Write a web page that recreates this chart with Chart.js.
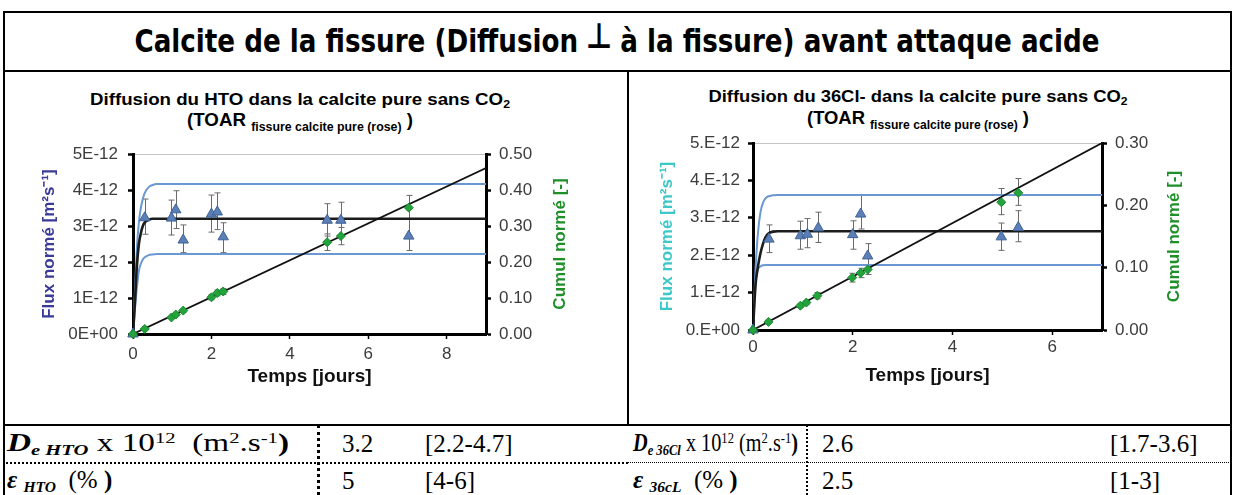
<!DOCTYPE html>
<html><head><meta charset="utf-8">
<script src="https://cdn.jsdelivr.net/npm/chart.js@4.4.0/dist/chart.umd.min.js"></script>
<style>
html,body{margin:0;padding:0;background:#fff;width:1234px;height:495px;overflow:hidden;position:relative;font-family:"Liberation Sans",Arial,sans-serif}
.ln{position:absolute;background:#000}
.vd{position:absolute;width:0;border-left:3px dotted #000}
.vd2{position:absolute;width:0;border-left:2px dotted #000}
.hd{position:absolute;height:0;border-top:2px dotted #000}
.hd2{position:absolute;height:0;border-top:1px dotted #000}
.ct{position:absolute;white-space:nowrap;transform:translate(-50%,-50%);font-weight:bold;color:#000}
.ct sub{font-size:0.66em;vertical-align:-0.35em}
.tx{position:absolute;white-space:nowrap;font-family:"Liberation Serif",serif;font-size:25px;color:#000;transform:translateY(-50%);transform-origin:0 50%}
.tx sub{font-size:0.62em;vertical-align:-0.25em}
.tx sup{font-size:0.62em;vertical-align:0.55em}
canvas{position:absolute}
</style></head>
<body>
<!-- table lines -->
<div class="ln" style="left:3px;top:11px;width:1229px;height:2px"></div>
<div class="ln" style="left:3px;top:11px;width:2px;height:484px"></div>
<div class="ln" style="left:1230px;top:11px;width:2px;height:484px"></div>
<div class="ln" style="left:3px;top:70px;width:1229px;height:2px"></div>
<div class="ln" style="left:627px;top:71px;width:2px;height:354px"></div>
<div class="ln" style="left:3px;top:424px;width:1229px;height:2px"></div>
<div class="vd" style="left:317px;top:425px;height:70px"></div>
<div class="vd2" style="left:806px;top:425px;height:70px"></div>
<div class="hd" style="left:3px;top:462px;width:625px"></div>
<div class="hd2" style="left:628px;top:462px;width:603px"></div>

<div id="mainTitle" class="ct" style="left:617px;top:41px;font-family:'DejaVu Sans Condensed','DejaVu Sans',sans-serif;font-size:32px">Calcite de la fissure (Diffusion <span style="display:inline-block;transform:translateY(-5px) scale(1.1)">⊥</span> à la fissure) avant attaque acide</div>

<div id="t1a" class="ct" style="left:300px;top:100px;font-size:17px">Diffusion du HTO dans la calcite pure sans CO<sub>2</sub></div>
<div id="t1b" class="ct" style="left:300px;top:122px;font-size:18px">(TOAR <sub>fissure calcite pure (rose)</sub> )</div>
<div id="t2a" class="ct" style="left:918px;top:97px;font-size:17px">Diffusion du 36Cl- dans la calcite pure sans CO<sub>2</sub></div>
<div id="t2b" class="ct" style="left:918px;top:120px;font-size:18px">(TOAR <sub>fissure calcite pure (rose)</sub> )</div>

<canvas id="c1" width="623" height="353" style="left:4px;top:72px"></canvas>
<canvas id="c2" width="600" height="353" style="left:630px;top:72px"></canvas>

<div id="r3a" class="tx" style="left:7px;top:444px"><b><i>D</i></b><sub><b><i>e HTO</i></b></sub> x 10<sup>12</sup> &nbsp;(m<sup>2</sup>.s<sup>-1</sup><b>)</b></div>
<div class="tx" style="left:342px;top:444px">3.2</div>
<div class="tx" style="left:425px;top:444px">[2.2-4.7]</div>
<div class="tx" style="left:7px;top:481px"><b><i>ε</i></b> <sub><b><i>HTO</i></b></sub> &nbsp;(% <b>)</b></div>
<div class="tx" style="left:342px;top:481px">5</div>
<div class="tx" style="left:425px;top:481px">[4-6]</div>

<div id="r3b" class="tx" style="left:633px;top:444px"><b><i>D</i></b><sub><b><i>e 36Cl</i></b></sub> x 10<sup>12</sup> (m<sup>2</sup>.s<sup>-1</sup><b>)</b></div>
<div class="tx" style="left:822px;top:444px">2.6</div>
<div class="tx" style="left:1110px;top:444px">[1.7-3.6]</div>
<div class="tx" style="left:633px;top:481px"><b><i>ε</i></b> <sub><b><i>36cL</i></b></sub> &nbsp;(% <b>)</b></div>
<div class="tx" style="left:822px;top:481px">2.5</div>
<div class="tx" style="left:1110px;top:481px">[1-3]</div>

<script>
// ================= DATA =================
// HTO chart (flux in units of 1E-12 m2/s, cumul dimensionless)
const htoTime      = [0, 0.30, 0.98, 1.09, 1.28, 2.00, 2.15, 2.30, 4.95, 5.30, 7.03];
const htoFlux      = [0, 3.23, 3.22, 3.45, 2.61, 3.33, 3.39, 2.70, 3.16, 3.16, 2.72];
const htoFluxLo    = [0, 2.77, 2.75, 2.93, 2.26, 2.83, 2.90, 2.26, 2.72, 2.75, 2.32];
const htoFluxHi    = [0, 3.75, 3.72, 3.98, 3.03, 3.86, 3.92, 3.09, 3.62, 3.66, 3.19];
const htoCumul     = [0, 0.014, 0.046, 0.054, 0.065, 0.102, 0.114, 0.118, 0.255, 0.272, 0.351];
const htoCumulLo   = [0, 0.012, 0.043, 0.050, 0.060, 0.095, 0.106, 0.110, 0.232, 0.248, 0.318];
const htoCumulHi   = [0, 0.016, 0.049, 0.058, 0.070, 0.109, 0.122, 0.126, 0.278, 0.296, 0.385];
const htoFitTime   = [0, 0.05, 0.10, 0.15, 0.20, 0.25, 0.30, 0.40, 0.50, 0.60, 9];
const htoFitMid    = [0, 0.9, 1.9, 2.5, 2.8, 3.0, 3.1, 3.17, 3.2, 3.2, 3.2];
const htoFitHigh   = [0, 1.2, 2.4, 3.1, 3.5, 3.75, 3.92, 4.08, 4.14, 4.17, 4.17];
const htoFitLow    = [0, 0.7, 1.3, 1.75, 1.95, 2.07, 2.13, 2.19, 2.21, 2.22, 2.22];
const htoCumFitTime = [0, 9];
const htoCumFit     = [0, 0.461];
const htoXTicks     = [0, 2, 4, 6, 8];
const htoFluxTicks  = [0, 1, 2, 3, 4, 5];
const htoFluxLabels = ['0E+00', '1E-12', '2E-12', '3E-12', '4E-12', '5E-12'];
const htoCumTicks   = [0, 0.1, 0.2, 0.3, 0.4, 0.5];
const htoCumLabels  = ['0.00', '0.10', '0.20', '0.30', '0.40', '0.50'];

// 36Cl chart
const clTime      = [0, 0.32, 0.95, 1.09, 1.31, 2.00, 2.16, 2.30, 4.98, 5.32];
const clFlux      = [0, 2.43, 2.52, 2.56, 2.73, 2.55, 3.10, 1.98, 2.49, 2.74];
const clFluxLo    = [0, 2.07, 2.16, 2.20, 2.34, 2.16, 2.70, 1.66, 2.13, 2.36];
const clFluxHi    = [0, 2.81, 2.91, 2.98, 3.15, 2.92, 3.60, 2.31, 2.86, 3.19];
const clCumTime   = [0, 0.31, 0.95, 1.07, 1.29, 1.99, 2.16, 2.30, 4.98, 5.32];
const clCumul     = [0, 0.013, 0.039, 0.044, 0.055, 0.084, 0.0915, 0.097, 0.205, 0.220];
const clCumulLo   = [0, 0.011, 0.036, 0.041, 0.050, 0.077, 0.084, 0.089, 0.185, 0.200];
const clCumulHi   = [0, 0.015, 0.042, 0.047, 0.060, 0.091, 0.099, 0.105, 0.227, 0.243];
const clFitTime   = [0, 0.05, 0.10, 0.15, 0.20, 0.25, 0.30, 0.40, 0.50, 7];
const clFitMid    = [0, 1.2, 1.7, 2.05, 2.3, 2.48, 2.57, 2.63, 2.64, 2.64];
const clFitHigh   = [0, 1.6, 2.6, 3.15, 3.4, 3.52, 3.57, 3.6, 3.61, 3.61];
const clFitLow    = [0, 1.2, 1.62, 1.7, 1.73, 1.74, 1.74, 1.74, 1.74, 1.74];
const clCumFitTime = [0, 7];
const clCumFit     = [0, 0.30];
const clXTicks     = [0, 2, 4, 6];
const clFluxTicks  = [0, 1, 2, 3, 4, 5];
const clFluxLabels = ['0.E+00', '1.E-12', '2.E-12', '3.E-12', '4.E-12', '5.E-12'];
const clCumTicks   = [0, 0.1, 0.2, 0.3];
const clCumLabels  = ['0.00', '0.10', '0.20', '0.30'];

// ================= HELPERS =================
function fitX(id, w){
  const el = document.getElementById(id);
  const cw = el.getBoundingClientRect().width;
  const k = w / cw;
  el.style.transform = (el.classList.contains('ct') ? 'translate(-50%,-50%) ' : 'translateY(-50%) ') + 'scaleX(' + k + ')';
}
fitX('mainTitle', 965);
fitX('t1a', 420); fitX('t2a', 419);
fitX('t1b', 226); fitX('t2b', 222);
fitX('r3a', 282);
fitX('r3b', 165);

function pts(xs, ys){ return xs.map((x, i) => ({x: x, y: ys[i]})); }

const errorBars = {
  id: 'errorBars',
  beforeDatasetsDraw(chart){
    const ctx = chart.ctx;
    chart.data.datasets.forEach((ds, i) => {
      if (!ds.errLo) return;
      const meta = chart.getDatasetMeta(i);
      const xs = chart.scales[meta.xAxisID], ys = chart.scales[meta.yAxisID];
      ctx.save();
      ctx.strokeStyle = ds.errColor; ctx.lineWidth = 1;
      ds.data.forEach((p, j) => {
        const lo = ds.errLo[j], hi = ds.errHi[j];
        if (lo === hi) return;
        const px = Math.round(xs.getPixelForValue(p.x)) + 0.5;
        const y1 = ys.getPixelForValue(lo), y2 = ys.getPixelForValue(hi);
        ctx.beginPath();
        ctx.moveTo(px, y1); ctx.lineTo(px, y2);
        ctx.moveTo(px - 3, y1); ctx.lineTo(px + 3, y1);
        ctx.moveTo(px - 3, y2); ctx.lineTo(px + 3, y2);
        ctx.stroke();
      });
      ctx.restore();
    });
  }
};

// right-axis title drawn reading bottom-to-top (like the reference)
const rightTitle = {
  id: 'rightTitle',
  afterDraw(chart, args, opts){
    const s = chart.scales.y2, ca = chart.chartArea, ctx = chart.ctx;
    const size = opts.size, lh = size * 1.2;
    ctx.save();
    ctx.font = 'bold ' + size + 'px "Liberation Sans", Arial, sans-serif';
    ctx.fillStyle = opts.color;
    ctx.textAlign = 'center'; ctx.textBaseline = 'middle';
    ctx.translate(s.right - 4 - lh / 2, (ca.top + ca.bottom) / 2);
    ctx.rotate(-Math.PI / 2);
    ctx.fillText(opts.text, 0, 0);
    ctx.restore();
  }
};

Chart.defaults.font.family = '"Liberation Sans", Arial, sans-serif';

function build(id, o){
  return new Chart(document.getElementById(id), {
    type: 'scatter',
    data: { datasets: [
      { data: pts(o.cumT, o.cum), yAxisID: 'y2', pointStyle: 'rectRot', pointRadius: 4.5,
        backgroundColor: '#22a33c', borderColor: '#17872c', borderWidth: 1, clip: false,
        errLo: o.cumLo, errHi: o.cumHi, errColor: '#6a6a6a' },
      { data: pts(o.fluxT, o.flux), yAxisID: 'y', pointStyle: 'triangle', pointRadius: 6,
        backgroundColor: '#5b7fb6', borderColor: '#3f6296', borderWidth: 1, clip: false,
        errLo: o.fluxLo, errHi: o.fluxHi, errColor: '#6a6a6a' },
      { data: pts(o.cumFitT, o.cumFit), yAxisID: 'y2', showLine: true, pointRadius: 0,
        borderColor: '#111', borderWidth: 1.8 },
      { data: pts(o.fitT, o.fitMid), yAxisID: 'y', showLine: true, pointRadius: 0,
        borderColor: '#1c1c1c', borderWidth: 2.6, cubicInterpolationMode: 'monotone' },
      { data: pts(o.fitT, o.fitHigh), yAxisID: 'y', showLine: true, pointRadius: 0,
        borderColor: '#6b98d3', borderWidth: 2, cubicInterpolationMode: 'monotone' },
      { data: pts(o.fitT, o.fitLow), yAxisID: 'y', showLine: true, pointRadius: 0,
        borderColor: '#6b98d3', borderWidth: 2, cubicInterpolationMode: 'monotone' }
    ]},
    options: {
      responsive: false, animation: false, events: [],
      layout: { padding: o.pad },
      plugins: { legend: { display: false }, tooltip: { enabled: false },
                 rightTitle: { text: 'Cumul normé [-]', color: '#1f8f2a', size: 17 } },
      scales: {
        x: {
          type: 'linear', min: 0, max: o.xMax,
          afterBuildTicks: s => { s.ticks = o.xTicks.map(v => ({ value: v })); },
          afterFit: s => { s.height = o.xH; },
          ticks: { font: { size: 17 }, color: '#3c3c3c', padding: o.xPad, maxRotation: 0, callback: (v, i) => String(o.xTicks[i]) },
          grid: { drawOnChartArea: false, tickLength: 5, tickColor: '#000', tickWidth: 1.5 },
          border: { color: '#000', width: 3 },
          title: { display: true, text: 'Temps [jours]', color: '#111', font: { size: 19, weight: 'bold' }, padding: { top: 4, bottom: 4 } }
        },
        y: {
          type: 'linear', position: 'left', min: 0, max: 5,
          afterBuildTicks: s => { s.ticks = o.fluxTicks.map(v => ({ value: v })); },
          afterFit: s => { s.width = o.yW; },
          ticks: { font: { size: 17 }, color: '#3c3c3c', padding: o.yPad, callback: (v, i) => o.fluxLabels[i] },
          grid: { drawOnChartArea: true, color: c => (c.tick && c.tick.value === 5) ? '#c4c4c4' : 'rgba(0,0,0,0)',
                  tickColor: '#000', tickLength: 5, tickWidth: 2.5, lineWidth: 1 },
          border: { color: '#000', width: 3 },
          title: { display: true, text: 'Flux normé [m²s⁻¹]', color: o.fluxColor, font: { size: 17, weight: 'bold' }, padding: { top: 4, bottom: 4 } }
        },
        y2: {
          type: 'linear', position: 'right', min: 0, max: o.cumMax,
          afterBuildTicks: s => { s.ticks = o.cumTicks.map(v => ({ value: v })); },
          afterFit: s => { s.width = o.y2W; },
          ticks: { font: { size: 17 }, color: '#3c3c3c', padding: 8, callback: (v, i) => o.cumLabels[i] },
          grid: { drawOnChartArea: false, tickColor: '#000', tickLength: 5, tickWidth: 2.5 },
          border: { color: '#000', width: 3 },
          title: { display: false }
        }
      }
    },
    plugins: [errorBars, rightTitle]
  });
}

build('c1', {
  fluxT: htoTime, flux: htoFlux, fluxLo: htoFluxLo, fluxHi: htoFluxHi,
  cumT: htoTime, cum: htoCumul, cumLo: htoCumulLo, cumHi: htoCumulHi,
  fitT: htoFitTime, fitMid: htoFitMid, fitHigh: htoFitHigh, fitLow: htoFitLow,
  cumFitT: htoCumFitTime, cumFit: htoCumFit,
  xTicks: htoXTicks, xMax: 9, fluxTicks: htoFluxTicks, fluxLabels: htoFluxLabels,
  cumTicks: htoCumTicks, cumLabels: htoCumLabels, cumMax: 0.5,
  fluxColor: '#3a3a98',
  pad: { left: 31, right: 52, top: 82, bottom: 33 }, yW: 98, y2W: 89, xH: 58, xPad: 5, yPad: 10
});

build('c2', {
  fluxT: clTime, flux: clFlux, fluxLo: clFluxLo, fluxHi: clFluxHi,
  cumT: clCumTime, cum: clCumul, cumLo: clCumulLo, cumHi: clCumulHi,
  fitT: clFitTime, fitMid: clFitMid, fitHigh: clFitHigh, fitLow: clFitLow,
  cumFitT: clCumFitTime, cumFit: clCumFit,
  xTicks: clXTicks, xMax: 7, fluxTicks: clFluxTicks, fluxLabels: clFluxLabels,
  cumTicks: clCumTicks, cumLabels: clCumLabels, cumMax: 0.3,
  fluxColor: '#3cc8c8',
  pad: { left: 23, right: 41, top: 71, bottom: 34 }, yW: 100, y2W: 87, xH: 61, xPad: 2, yPad: 8
});
</script>
</body></html>
